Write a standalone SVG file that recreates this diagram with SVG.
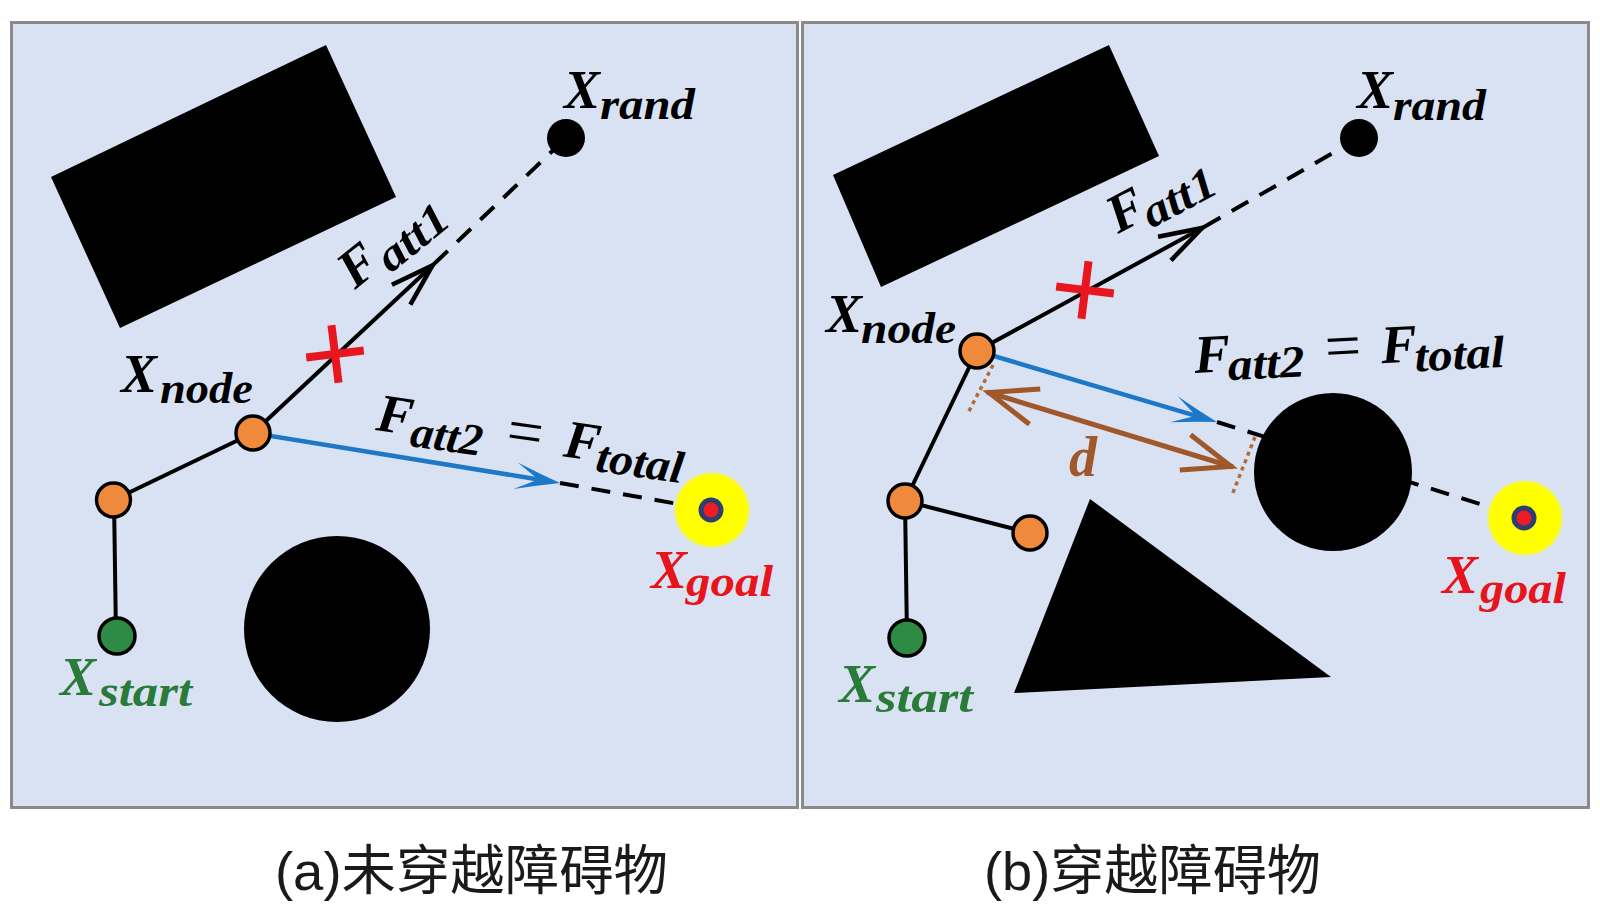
<svg xmlns="http://www.w3.org/2000/svg" width="1600" height="917" viewBox="0 0 1600 917">
<defs>
<style>
.panel{fill:#d9e2f3;stroke:#8a8a8a;stroke-width:3}
.obs{fill:#000}
.edge{stroke:#000;stroke-width:4;fill:none}
.dash{stroke:#000;stroke-width:4;stroke-dasharray:19 13;fill:none}
.blue{stroke:#1e78c8;stroke-width:4.5;fill:none}
.brown{stroke:#a0582a;stroke-width:5;fill:none}
.dot{stroke:#b36a35;stroke-width:3.5;stroke-dasharray:4 4;fill:none}
.node{stroke:#000;stroke-width:3.5}
.orange{fill:#ef8a3c}
.green{fill:#2e8b45}
.cross{fill:#e8161e}
.math{font-family:"Liberation Serif","DejaVu Serif",serif;font-style:italic;font-weight:bold}
.big{font-size:54px}
.sub{font-size:45px}
.eq{font-family:"Liberation Serif","DejaVu Serif",serif;font-size:64px}
.cap{font-family:"Liberation Sans","Noto Sans CJK SC",sans-serif;font-size:54px;fill:#1a1a1a}
</style>
<marker id="arrBlack" markerUnits="userSpaceOnUse" viewBox="-55 -20 60 40" markerWidth="60" markerHeight="40" refX="0" refY="0" orient="auto" overflow="visible">
<path d="M-45,-13.5 L-2,0 L-45,13.5" fill="none" stroke="#000" stroke-width="4.5"/>
</marker>
<marker id="arrBlue" markerUnits="userSpaceOnUse" viewBox="-55 -20 60 40" markerWidth="60" markerHeight="40" refX="-20" refY="0" orient="auto" overflow="visible">
<path d="M0,0 Q-22,-6 -45,-13.5 L-22,0 L-45,13.5 Q-22,6 0,0 Z" fill="#1e78c8"/>
</marker>
<marker id="arrBrown" markerUnits="userSpaceOnUse" viewBox="-60 -25 65 50" markerWidth="65" markerHeight="50" refX="0" refY="0" orient="auto-start-reverse" overflow="visible">
<path d="M-50,-18.5 L-2,0 L-50,18.5" fill="none" stroke="#a0582a" stroke-width="5"/>
</marker>
<filter id="soft" x="-20%" y="-20%" width="140%" height="140%"><feGaussianBlur stdDeviation="1.2"/></filter>
</defs>

<g id="panel-a">
<rect class="panel" x="11.5" y="22.5" width="786" height="785"/>
</g>
<g id="panel-b">
<rect class="panel" x="802.5" y="22.5" width="786" height="785"/>
</g>

<g id="obstacles-a">
<polygon class="obs" points="326,45 396,197 120,328 51,177"/>
<circle class="obs" cx="337" cy="629" r="93"/>
</g>
<g id="obstacles-b">
<polygon class="obs" points="1109,45 1159,156 881,287 833,175"/>
<circle class="obs" cx="1333" cy="472" r="79"/>
<polygon class="obs" points="1090,499 1014,693 1331,677"/>
</g>

<g id="connectors">
<line class="edge" x1="253" y1="433" x2="113.5" y2="500"/>
<line class="edge" x1="114" y1="500" x2="116" y2="636"/>
<line class="edge" x1="253" y1="433" x2="434" y2="264" marker-end="url(#arrBlack)"/>
<line class="dash" x1="434" y1="264" x2="566" y2="138"/>
<line class="blue" x1="253" y1="433" x2="540.3" y2="479.8" marker-end="url(#arrBlue)"/>
<line class="dash" x1="560" y1="483" x2="712" y2="510"/>
<line class="edge" x1="977" y1="351" x2="905" y2="501"/>
<line class="edge" x1="905" y1="501" x2="1030" y2="533"/>
<line class="edge" x1="905" y1="501" x2="907" y2="638"/>
<line class="edge" x1="977" y1="351" x2="1204" y2="227" marker-end="url(#arrBlack)"/>
<line class="dash" x1="1204" y1="227" x2="1359" y2="138"/>
<line class="dash" x1="1217" y1="422" x2="1525" y2="518"/>
<line class="blue" x1="977" y1="351" x2="1197.8" y2="416.3" marker-end="url(#arrBlue)"/>
<line class="dot" x1="993" y1="365" x2="968" y2="413"/>
<line class="dot" x1="1255" y1="437" x2="1232" y2="495"/>
<line class="brown" x1="987" y1="392" x2="1233" y2="467" marker-start="url(#arrBrown)" marker-end="url(#arrBrown)"/>
</g>

<g id="cross-a" transform="translate(335,354) rotate(-7)">
<rect class="cross" x="-4" y="-29" width="8" height="58"/>
<rect class="cross" x="-29" y="-4" width="58" height="8"/>
</g>
<g id="cross-b" transform="translate(1085,290) rotate(7)">
<rect class="cross" x="-4" y="-29" width="8" height="58"/>
<rect class="cross" x="-29" y="-4" width="58" height="8"/>
</g>

<g id="a-rand">
<circle cx="566" cy="138" r="19" fill="#000"/>
<text class="math big" x="564" y="108">X</text>
<text class="math sub" x="600" y="119" textLength="95" lengthAdjust="spacingAndGlyphs">rand</text>
</g>
<g id="a-node">
<circle class="node orange" cx="253" cy="433" r="17"/>
<text class="math big" x="121" y="392">X</text>
<text class="math sub" x="160" y="403" textLength="93" lengthAdjust="spacingAndGlyphs">node</text>
</g>
<g id="a-n2">
<circle class="node orange" cx="113.5" cy="500" r="17"/>
</g>
<g id="a-start">
<circle class="node green" cx="117" cy="636" r="18"/>
<text class="math big" x="60" y="695" fill="#2a7a3a">X</text>
<text class="math sub" x="99" y="706" fill="#2a7a3a" textLength="93" lengthAdjust="spacingAndGlyphs">start</text>
</g>
<g id="a-goal">
<circle cx="712" cy="510" r="37" fill="#ffff00" filter="url(#soft)"/>
<circle cx="711" cy="510" r="12.5" fill="#2b3f73"/>
<circle cx="711" cy="510" r="7.5" fill="#ee1c24"/>
<text class="math big" x="651" y="588" fill="#e8141c">X</text>
<text class="math sub" x="686" y="596" fill="#e8141c" textLength="87" lengthAdjust="spacingAndGlyphs">goal</text>
</g>
<g id="a-fatt1" transform="translate(355,290) rotate(-39)">
<text class="math big" x="0" y="0">F</text>
<text class="math sub" x="38" y="10" textLength="80" lengthAdjust="spacingAndGlyphs">att1</text>
</g>
<g id="a-fatt2" transform="translate(375,430) rotate(8)">
<text class="math big" x="0" y="0">F</text>
<text class="math sub" x="36" y="11" textLength="72" lengthAdjust="spacingAndGlyphs">att2</text>
<text class="eq" x="149" y="2" text-anchor="middle">=</text>
<text class="math big" x="189" y="0">F</text>
<text class="math sub" x="223" y="10" textLength="88" lengthAdjust="spacingAndGlyphs">total</text>
</g>

<g id="b-rand">
<circle cx="1359" cy="138" r="19" fill="#000"/>
<text class="math big" x="1357" y="108">X</text>
<text class="math sub" x="1393" y="120" textLength="93" lengthAdjust="spacingAndGlyphs">rand</text>
</g>
<g id="b-node">
<circle class="node orange" cx="977" cy="351" r="17"/>
<text class="math big" x="826" y="332">X</text>
<text class="math sub" x="861" y="343" textLength="95" lengthAdjust="spacingAndGlyphs">node</text>
</g>
<g id="b-n2">
<circle class="node orange" cx="905" cy="501" r="17"/>
</g>
<g id="b-n3">
<circle class="node orange" cx="1030" cy="533" r="17"/>
</g>
<g id="b-start">
<circle class="node green" cx="907" cy="638" r="18"/>
<text class="math big" x="839" y="702" fill="#2a7a3a">X</text>
<text class="math sub" x="876" y="712" fill="#2a7a3a" textLength="97" lengthAdjust="spacingAndGlyphs">start</text>
</g>
<g id="b-goal">
<circle cx="1525" cy="518" r="37" fill="#ffff00" filter="url(#soft)"/>
<circle cx="1524" cy="518" r="12.5" fill="#2b3f73"/>
<circle cx="1524" cy="518" r="7.5" fill="#ee1c24"/>
<text class="math big" x="1442" y="593" fill="#e8141c">X</text>
<text class="math sub" x="1480" y="603" fill="#e8141c" textLength="86" lengthAdjust="spacingAndGlyphs">goal</text>
</g>
<g id="b-fatt1" transform="translate(1118,234) rotate(-28)">
<text class="math big" x="0" y="0">F</text>
<text class="math sub" x="32" y="11" textLength="78" lengthAdjust="spacingAndGlyphs">att1</text>
</g>
<g id="b-fatt2" transform="translate(1195,373) rotate(-3)">
<text class="math big" x="0" y="0">F</text>
<text class="math sub" x="33" y="9" textLength="77" lengthAdjust="spacingAndGlyphs">att2</text>
<text class="eq" x="149" y="2" text-anchor="middle">=</text>
<text class="math big" x="187" y="0">F</text>
<text class="math sub" x="220" y="10" textLength="90" lengthAdjust="spacingAndGlyphs">total</text>
</g>
<g id="b-d">
<text class="math" x="1069" y="476" font-size="56" fill="#a0582a">d</text>
</g>

<g id="captions">
<text class="cap" x="275" y="890" textLength="393" lengthAdjust="spacingAndGlyphs">(a)未穿越障碍物</text>
<text class="cap" x="984" y="890" textLength="337" lengthAdjust="spacingAndGlyphs">(b)穿越障碍物</text>
</g>
</svg>
